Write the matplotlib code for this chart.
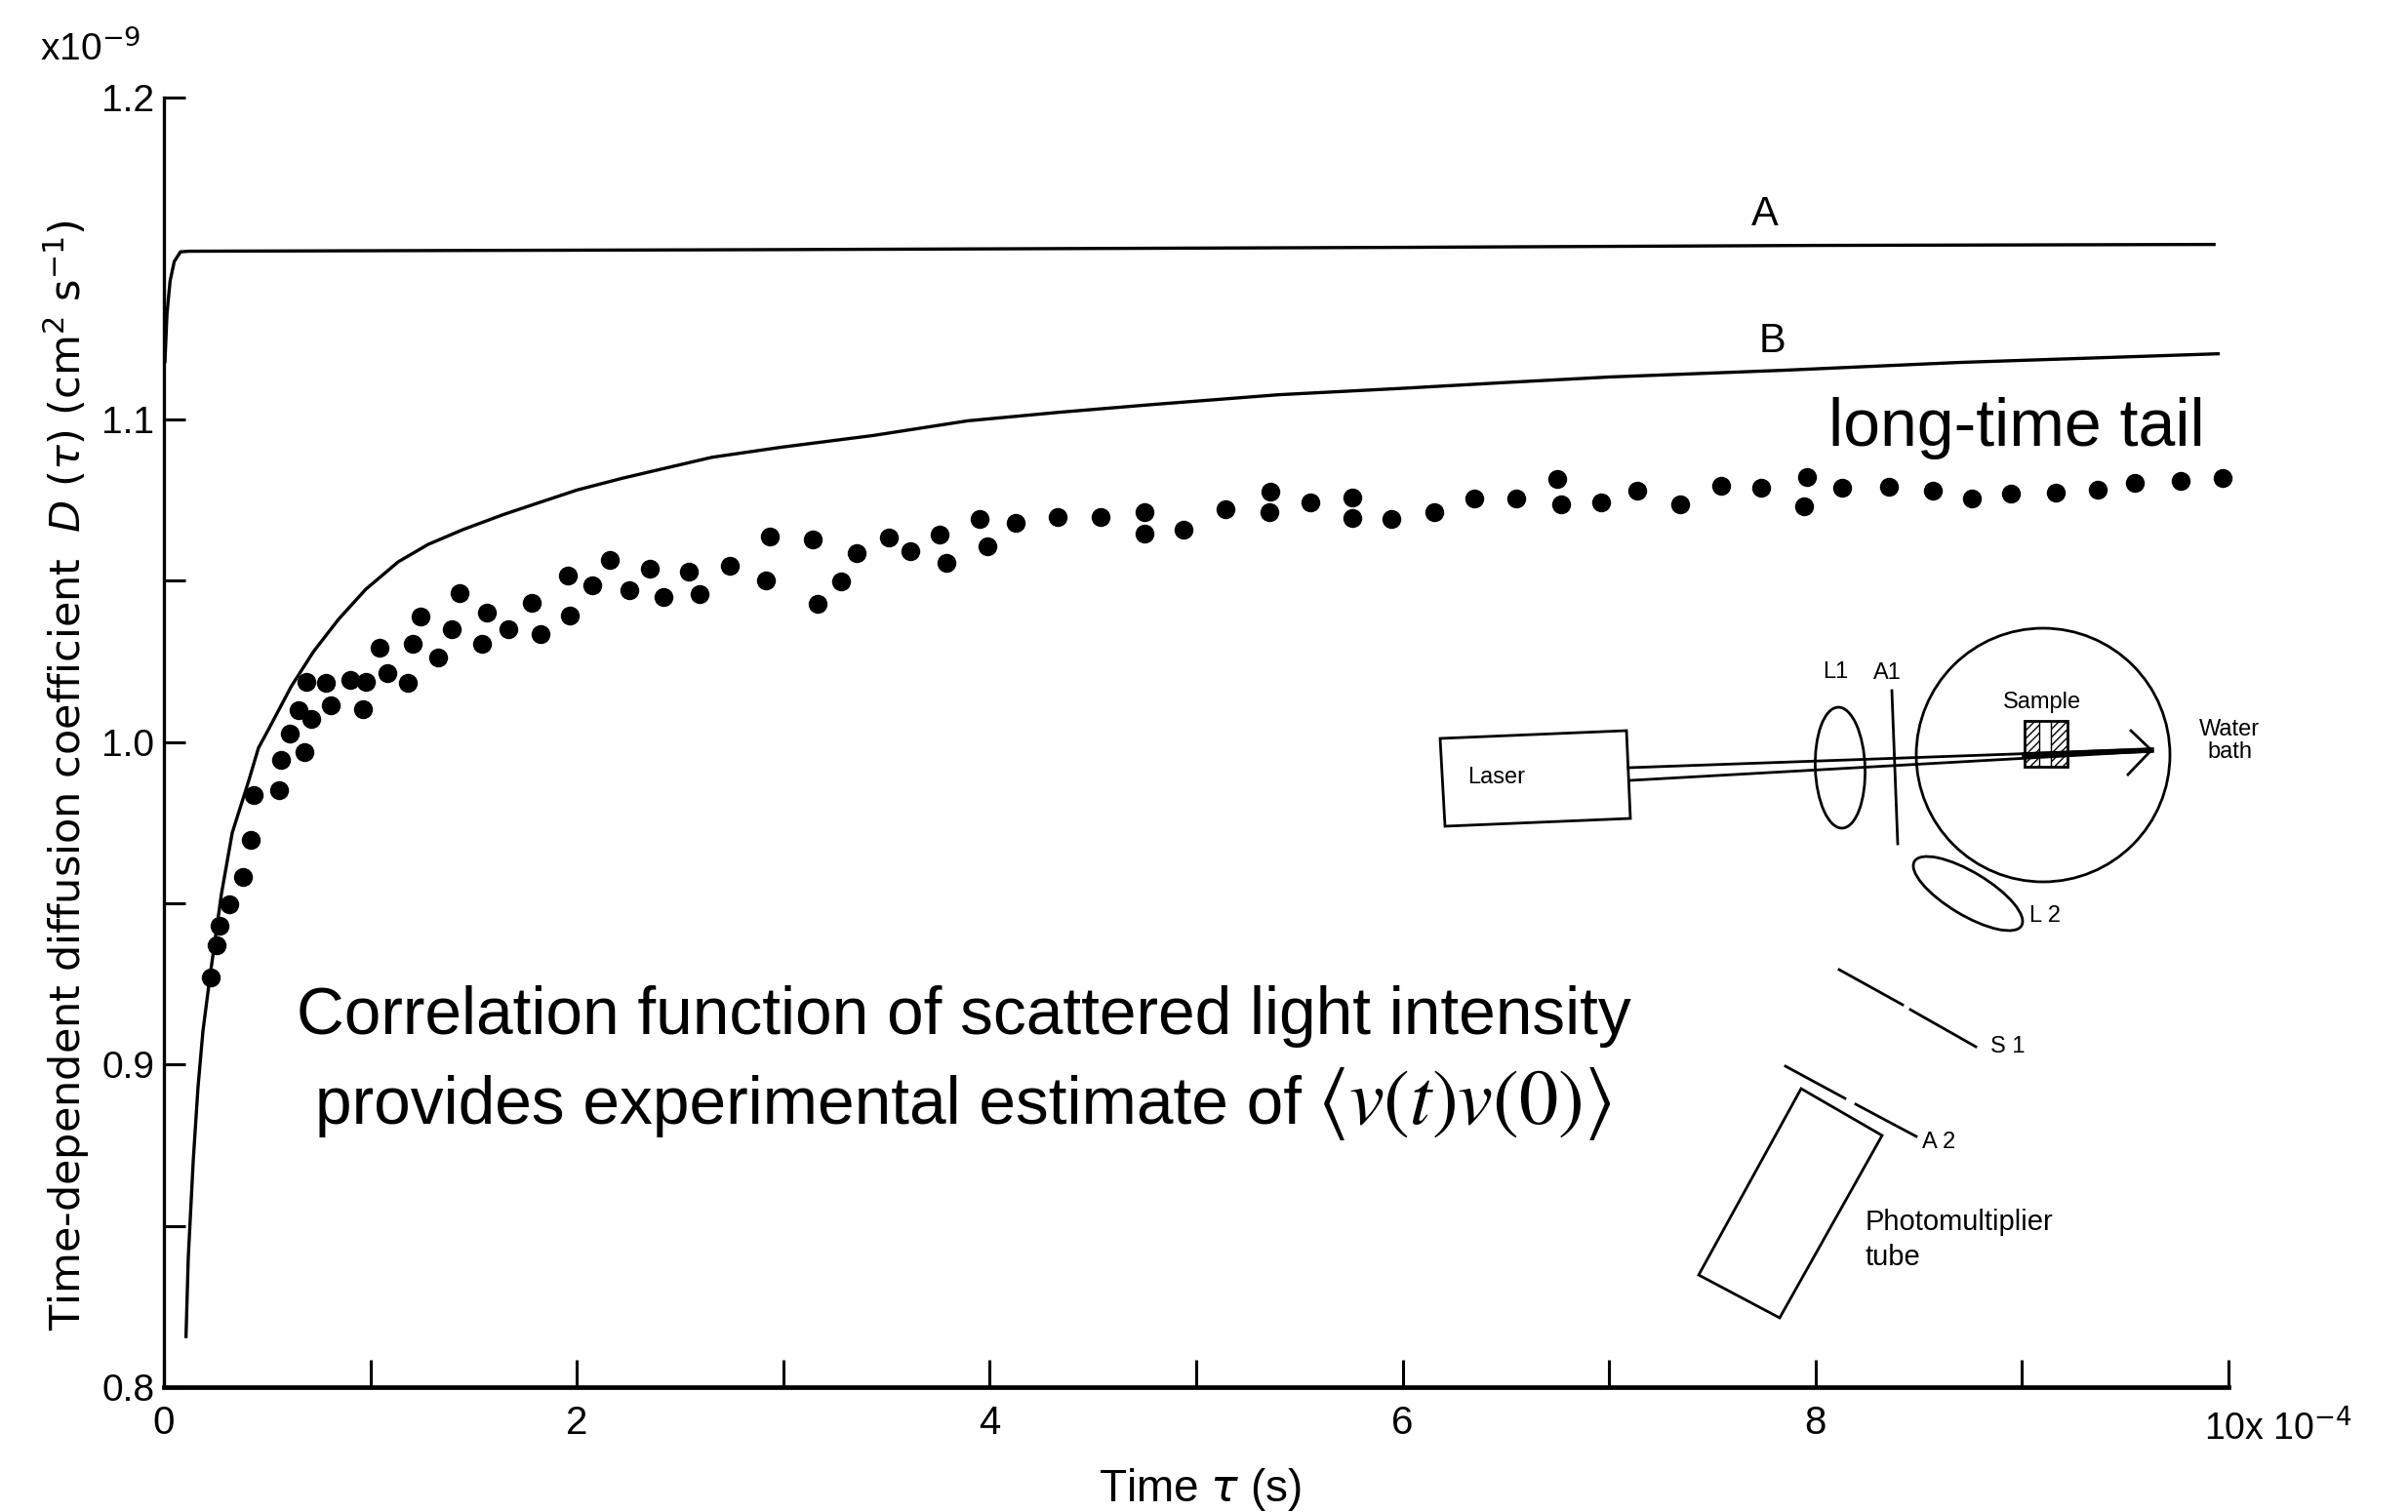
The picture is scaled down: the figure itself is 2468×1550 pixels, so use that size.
import matplotlib
matplotlib.use("Agg")
import matplotlib.pyplot as plt
from matplotlib.patches import Circle, Ellipse, Polygon, Rectangle

W, H = 2468, 1550

# measured points, time in 1e-4 s, D in 1e-9 cm2/s
pts_t = [0.225, 0.255, 0.270, 0.315, 0.382, 0.419, 0.434, 0.560, 0.568, 0.682, 0.612, 0.713, 0.653, 0.810,
         0.966, 0.689, 0.785, 0.901, 0.978, 1.183, 1.080, 1.046, 1.207, 1.328, 1.244, 1.393, 1.432, 1.540,
         1.564, 1.670, 1.781, 1.822, 1.967, 1.955, 2.076, 2.160, 2.252, 2.353, 2.418, 2.541, 2.594, 2.743,
         2.915, 2.936, 3.168, 3.144, 3.282, 3.355, 3.511, 3.614, 3.756, 3.792, 3.951, 3.991, 4.126, 4.328,
         4.539, 4.750, 4.750, 4.940, 5.142, 5.359, 5.353, 5.552, 5.754, 5.754, 5.947, 6.155, 6.347, 6.552,
         6.748, 6.766, 6.959, 7.134, 7.342, 7.541, 7.738, 7.958, 7.944, 8.129, 8.354, 8.566, 8.756, 8.948,
         9.165, 9.369, 9.545, 9.770, 9.971]
pts_d = [0.9269, 0.9369, 0.9431, 0.9498, 0.9583, 0.9698, 0.9836, 0.9850, 0.9944, 0.9969, 1.0025, 1.0072, 1.0100, 1.0114,
         1.0103, 1.0188, 1.0184, 1.0193, 1.0188, 1.0185, 1.0214, 1.0293, 1.0304, 1.0262, 1.0389, 1.0350, 1.0461, 1.0304,
         1.0401, 1.0350, 1.0431, 1.0335, 1.0393, 1.0517, 1.0486, 1.0565, 1.0471, 1.0539, 1.0451, 1.0528, 1.0458, 1.0548,
         1.0502, 1.0636, 1.0429, 1.0628, 1.0497, 1.0586, 1.0633, 1.0593, 1.0643, 1.0557, 1.0692, 1.0606, 1.0679, 1.0699,
         1.0697, 1.0712, 1.0645, 1.0658, 1.0722, 1.0777, 1.0712, 1.0744, 1.0757, 1.0694, 1.0692, 1.0712, 1.0754, 1.0754,
         1.0817, 1.0737, 1.0744, 1.0781, 1.0737, 1.0794, 1.0789, 1.0823, 1.0731, 1.0789, 1.0792, 1.0779, 1.0754, 1.0769,
         1.0774, 1.0784, 1.0803, 1.0810, 1.0818]

curve_a_t = [0.005, 0.015, 0.03, 0.05, 0.08, 0.12, 3.0, 6.0, 8.0, 9.93]
curve_a_d = [1.118, 1.133, 1.143, 1.149, 1.152, 1.1522, 1.1527, 1.1534, 1.1540, 1.1543]

curve_b_t = [0.107, 0.118, 0.142, 0.165, 0.189, 0.222, 0.279, 0.331, 0.388, 0.412, 0.458, 0.508, 0.617, 0.725, 0.846,
             0.978, 1.135, 1.280, 1.449, 1.642, 1.810, 2.003, 2.220, 2.413, 2.654, 2.987, 3.439, 3.891, 4.343, 4.795,
             5.097, 5.398, 5.700, 6.0, 6.5, 7.0, 7.85, 8.69, 9.95]
curve_b_d = [0.8157, 0.8402, 0.8702, 0.8929, 0.9104, 0.9268, 0.9531, 0.9719, 0.9834, 0.9883, 0.9982, 1.0041, 1.0173,
             1.0281, 1.0381, 1.0474, 1.0559, 1.0613, 1.0659, 1.0705, 1.0741, 1.0782, 1.0818, 1.0847, 1.0883, 1.0914,
             1.0951, 1.0996, 1.1023, 1.1047, 1.1062, 1.1077, 1.1087, 1.1097, 1.1115, 1.1132, 1.1153, 1.1177, 1.1204]

x_ticks = [0, 1, 2, 3, 4, 5, 6, 7, 8, 9, 10]
x_labels = ["0", "", "2", "", "4", "", "6", "", "8", "", ""]
y_major = [0.8, 0.9, 1.0, 1.1, 1.2]
y_minor = [0.85, 0.95, 1.05]

# apparatus sketch, in picture pixels
laser_box = [(1476, 757), (1667, 749), (1671, 839), (1481, 847)]
pmt_box = [(1846, 1116), (1929, 1164), (1824, 1351), (1741, 1307)]
sketch_lines = [
    [(1669, 787), (2205, 768)],
    [(1671, 800), (2205, 770)],
    [(2184, 749), (2205, 769), (2181, 794)],
    [(1939, 708), (1945, 865)],
    [(1885, 994), (1950, 1030)],
    [(1958, 1035), (2025, 1073)],
    [(1830, 1093), (1891, 1126)],
    [(1902, 1132), (1964, 1165)],
]
beam_core = [(2075, 774), (2205, 769)]
sketch_text = [("Laser", 1534, 797), ("L1", 1881, 689), ("A1", 1934, 690), ("Sample", 2093, 720),
               ("Water", 2285, 748), ("bath", 2285, 771), ("L 2", 2096, 939), ("S 1", 2058, 1073),
               ("A 2", 1987, 1171)]

plt.rcParams["font.family"] = ["Liberation Sans", "DejaVu Sans"]
fig = plt.figure(figsize=(W / 100, H / 100), dpi=100)

ax = fig.add_axes([168 / W, (H - 1422) / H, (2284 - 168) / W, (1422 - 99.5) / H])
ax.plot(curve_a_t, curve_a_d, color="black", lw=2.4)
ax.plot(curve_b_t, curve_b_d, color="black", lw=2.4)
ax.plot(pts_t, pts_d, "o", color="black", ms=14, mew=0, clip_on=False)
ax.set_xlim(0, 10)
ax.set_ylim(0.8, 1.2)
ax.spines["top"].set_visible(False)
ax.spines["right"].set_visible(False)
ax.spines["bottom"].set_linewidth(3.4)
ax.spines["left"].set_linewidth(2.4)
ax.set_xticks(x_ticks)
ax.set_xticklabels(x_labels)
ax.set_yticks(y_major)
ax.set_yticklabels(["%.1f" % v for v in y_major])
ax.set_yticks(y_minor, minor=True)
ax.tick_params(axis="x", direction="in", length=20, width=2.2, labelsize=29, pad=13)
ax.tick_params(axis="y", direction="in", length=16, width=2.2, labelsize=28, pad=7)
ax.tick_params(axis="y", which="minor", direction="in", length=16, width=2.2)

# overlay in picture pixels for the pasted text and the sketch
ov = fig.add_axes([0, 0, 1, 1])
ov.set_xlim(0, W)
ov.set_ylim(H, 0)
ov.axis("off")
ov.patch.set_visible(False)

ov.text(68, 795, r"Time-dependent diffusion coefficient  $\mathit{D}$ ($\tau$) (cm$^{2}$ s$^{-1}$)",
        rotation=90, ha="center", va="center", fontsize=31, family="DejaVu Sans")
ov.text(1230, 1527, r"Time $\tau$ (s)", ha="center", va="center", fontsize=33)
ov.text(41, 62, r"x10$^{-9}$", ha="left", va="baseline", fontsize=28)
ov.text(2259, 1476, r"10x 10$^{-4}$", ha="left", va="baseline", fontsize=27)
ov.text(1809, 220, "A", ha="center", va="center", fontsize=30)
ov.text(1817, 350, "B", ha="center", va="center", fontsize=30)

ov.text(2067, 457, "long-time tail", ha="center", va="baseline", fontsize=49, family="Liberation Sans")
ov.text(988, 1060, "Correlation function of scattered light intensity", ha="center", va="baseline",
        fontsize=48.7, family="Liberation Sans")
ov.text(323, 1152, "provides experimental estimate of", ha="left", va="baseline", fontsize=48.7, family="Liberation Sans")
ov.text(1652, 1152, r"$\langle v(t)v(0)\rangle$", ha="right", va="baseline", fontsize=58, math_fontfamily="stix")

ov.add_patch(Polygon(laser_box, closed=True, fill=False, ec="black", lw=2))
ov.add_patch(Polygon(pmt_box, closed=True, fill=False, ec="black", lw=2))
for ln in sketch_lines:
    ov.plot([p[0] for p in ln], [p[1] for p in ln], color="black", lw=2)
ov.plot([p[0] for p in beam_core], [p[1] for p in beam_core], color="black", lw=4)
ov.add_patch(Circle((2094, 774), 130, fill=False, ec="black", lw=2))
ov.add_patch(Ellipse((1886, 787), 51, 124, angle=-2, fill=False, ec="black", lw=2))
ov.add_patch(Ellipse((2017, 916), 128, 44, angle=31, fill=False, ec="black", lw=2))
ov.add_patch(Rectangle((2075, 739), 44, 47, fill=False, ec="black", lw=2))
ov.add_patch(Rectangle((2075, 739), 15, 47, fill=False, ec="black", lw=1, hatch="////"))
ov.add_patch(Rectangle((2102, 739), 17, 47, fill=False, ec="black", lw=1, hatch="////"))
for t, x, y in sketch_text:
    ov.text(x, y, t, ha="center", va="center", fontsize=17)
ov.text(1912, 1253, "Photomultiplier", ha="left", va="center", fontsize=21)
ov.text(1912, 1289, "tube", ha="left", va="center", fontsize=21)

fig.savefig("out.png", dpi=100)
